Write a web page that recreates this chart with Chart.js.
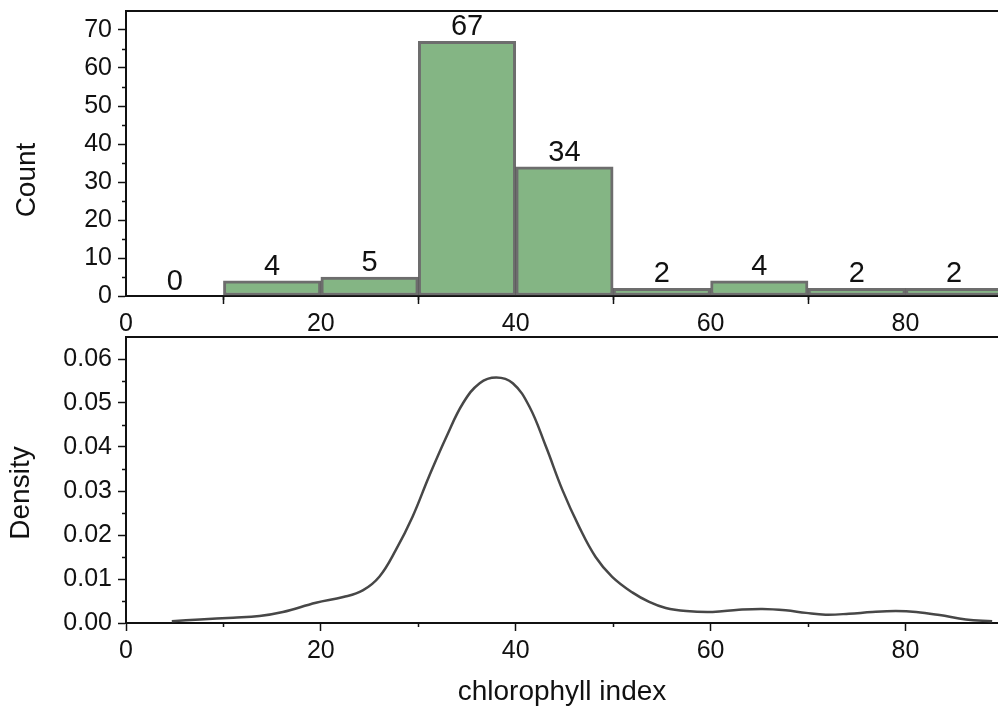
<!DOCTYPE html>
<html>
<head>
<meta charset="utf-8">
<script src="https://cdn.jsdelivr.net/npm/chart.js@4/dist/chart.umd.min.js"></script>
<style>
  body { margin: 0; background: #fff; }
  #wrap { position: relative; width: 998px; height: 711px; }
  canvas { position: absolute; left: 0; }
  #histo { top: 0; }
  #density { top: 330px; }
</style>
</head>
<body>
<div id="wrap">
  <canvas id="histo" width="998" height="345"></canvas>
  <canvas id="density" width="998" height="381"></canvas>
</div>
<script>
// histogram bins (centers) and counts
const binCenters = [5, 15, 25, 35, 45, 55, 65, 75, 85];
const binCounts = [0, 4, 5, 67, 34, 2, 4, 2, 2];

// kernel density curve
const densityX = [4.7, 7.6, 11, 13.7, 16.1, 19.5, 22.3, 24.3, 26.0, 27.7, 29.4, 31.1, 32.9, 34.6, 36.3, 38.0,
  39.7, 41.4, 43.1, 44.8, 46.5, 48.2, 49.9, 52.0, 53.7, 55.4, 57.5, 60.2, 62.9, 65.3, 67.7, 69.8,
  71.8, 74.2, 76.6, 79.0, 81.1, 83.5, 86.2, 88.9];
const densityY = [0.0004, 0.0008, 0.0012, 0.0016, 0.0025, 0.0046, 0.0059, 0.0074, 0.0105, 0.0166, 0.0241, 0.0333, 0.0424, 0.0500, 0.0545, 0.0558,
  0.0545, 0.0492, 0.0401, 0.0302, 0.0219, 0.0150, 0.0105, 0.0069, 0.0048, 0.0034, 0.0027, 0.0025, 0.0030, 0.0032, 0.0029, 0.0023,
  0.0019, 0.0021, 0.0025, 0.0027, 0.0025, 0.0018, 0.0008, 0.0004];

const xMin = 0, xMax = 89.5;
const countMax = 75, densityMax = 0.065;

const FONT = '"Liberation Sans", Arial, sans-serif';
const INK = '#111';

// short ticks half way between the labelled ones
const minorTicks = {
    id: 'minorTicks',
    afterDraw(chart, args, opts) {
        const ctx = chart.ctx;
        const {x, y} = chart.scales;
        ctx.save();
        ctx.strokeStyle = INK;
        ctx.lineWidth = 1.5;
        ctx.beginPath();
        for (let k = 0; ; k++) {
            const v = (k + 0.5) * opts.xStep;
            if (v > x.max) break;
            const px = Math.round(x.getPixelForValue(v)) + 0.5;
            ctx.moveTo(px, y.bottom);
            ctx.lineTo(px, y.bottom + 4);
        }
        for (let k = 0; ; k++) {
            const v = (k + 0.5) * opts.yStep;
            if (v > y.max - opts.yStep / 2) break;
            const py = Math.round(y.getPixelForValue(v)) + 0.5;
            ctx.moveTo(x.left - 4, py);
            ctx.lineTo(x.left, py);
        }
        ctx.stroke();
        // top frame line
        ctx.lineWidth = 2;
        ctx.beginPath();
        ctx.moveTo(x.left, chart.chartArea.top);
        ctx.lineTo(x.right, chart.chartArea.top);
        ctx.stroke();
        ctx.restore();
    }
};

// rotated y title, placed like the original
const yTitle = {
    id: 'yTitle',
    afterDraw(chart, args, opts) {
        const ctx = chart.ctx;
        ctx.save();
        ctx.translate(opts.x, opts.y);
        ctx.rotate(-Math.PI / 2);
        ctx.font = `28px ${FONT}`;
        ctx.fillStyle = INK;
        ctx.textAlign = 'center';
        ctx.textBaseline = 'middle';
        ctx.fillText(opts.text, 0, 0);
        ctx.restore();
    }
};

// count above each bar
const barLabels = {
    id: 'barLabels',
    afterDatasetsDraw(chart) {
        const ctx = chart.ctx;
        const meta = chart.getDatasetMeta(0);
        ctx.save();
        ctx.font = `29px ${FONT}`;
        ctx.fillStyle = INK;
        ctx.textAlign = 'center';
        ctx.textBaseline = 'alphabetic';
        meta.data.forEach((bar, i) => {
            ctx.fillText(String(binCounts[i]), bar.x, bar.y - 6);
        });
        ctx.restore();
    }
};

function noPad(scale) {
    scale.paddingTop = 0;
    scale.paddingBottom = 0;
    scale.paddingLeft = 0;
    scale.paddingRight = 0;
}

const tickFont = { family: FONT, size: 25 };

function axisX(height, extra) {
    return Object.assign({
        type: 'linear', min: xMin, max: xMax,
        border: { color: INK, width: 2 },
        grid: { drawOnChartArea: false, drawTicks: true, tickLength: 8, tickColor: INK, tickWidth: 1.5 },
        ticks: { stepSize: 20, includeBounds: false, color: INK, padding: 5, maxRotation: 0, font: tickFont },
        afterFit(scale) { scale.height = height; noPad(scale); }
    }, extra);
}

function axisY(max, step, extraTicks) {
    return {
        min: 0, max,
        border: { color: INK, width: 2 },
        grid: { drawOnChartArea: false, drawTicks: true, tickLength: 8, tickColor: INK, tickWidth: 1.5 },
        ticks: Object.assign({ stepSize: step, includeBounds: false, color: INK, padding: 6, font: tickFont }, extraTicks),
        afterFit(scale) { scale.width = 126; noPad(scale); }
    };
}

new Chart(document.getElementById('histo'), {
    type: 'bar',
    data: {
        datasets: [{
            data: binCenters.map((c, i) => ({ x: c, y: binCounts[i] })),
            backgroundColor: '#84b584',
            borderColor: 'rgba(60,60,60,0.75)',
            borderWidth: 3,
            borderSkipped: false,
            barPercentage: 1,
            categoryPercentage: 1
        }]
    },
    options: {
        responsive: false,
        animation: false,
        layout: { padding: { top: 11, left: 0, right: 0, bottom: 0 } },
        plugins: {
            legend: { display: false },
            tooltip: { enabled: false },
            minorTicks: { xStep: 20, yStep: 10 },
            yTitle: { text: 'Count', x: 27, y: 180 }
        },
        scales: {
            x: axisX(345 - 296, { offset: false }),
            y: axisY(countMax, 10, {})
        }
    },
    plugins: [minorTicks, yTitle, barLabels]
});

new Chart(document.getElementById('density'), {
    type: 'line',
    data: {
        datasets: [{
            data: densityX.map((x, i) => ({ x, y: densityY[i] })),
            borderColor: '#474747',
            borderWidth: 2.5,
            pointRadius: 0,
            tension: 0.4,
            fill: false
        }]
    },
    options: {
        responsive: false,
        animation: false,
        layout: { padding: { top: 7, left: 0, right: 0, bottom: 0 } },
        plugins: {
            legend: { display: false },
            tooltip: { enabled: false },
            minorTicks: { xStep: 20, yStep: 0.01 },
            yTitle: { text: 'Density', x: 21, y: 163 }
        },
        scales: {
            x: axisX(381 - 293, {
                title: { display: true, text: 'chlorophyll index', color: INK,
                         font: { family: FONT, size: 28 }, padding: { top: 0, bottom: 2 } }
            }),
            y: axisY(densityMax, 0.01, { callback: v => v.toFixed(2) })
        }
    },
    plugins: [minorTicks, yTitle]
});
</script>
</body>
</html>
